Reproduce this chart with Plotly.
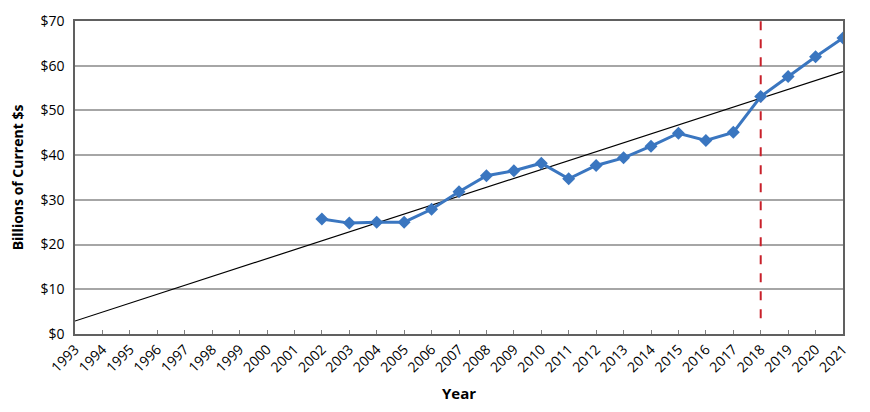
import plotly.graph_objects as go

# Data
years = list(range(2002, 2022))
values = [25.7, 24.8, 25.0, 25.0, 27.9, 31.8, 35.4, 36.5, 38.2, 34.7,
          37.7, 39.4, 42.0, 44.9, 43.3, 45.1, 53.1, 57.6, 62.0, 66.2]

trend_years = [1993, 2021]
trend_values = [2.9, 58.7]

marker_year = 2018
marker_span = [3.5, 70]

tick_years = list(range(1993, 2022))

FONT = "Open Sans"

fig = go.Figure()

# Trend line (thin black)
fig.add_trace(go.Scatter(
    x=trend_years, y=trend_values, mode='lines',
    line=dict(color='black', width=1.2),
    hoverinfo='skip', showlegend=False
))

# Red dashed reference line
fig.add_trace(go.Scatter(
    x=[marker_year, marker_year], y=marker_span, mode='lines',
    line=dict(color='#C8202A', width=2, dash='dash'),
    hoverinfo='skip', showlegend=False
))

# Main series
fig.add_trace(go.Scatter(
    x=years, y=values, mode='lines+markers',
    line=dict(color='#3A76C0', width=3),
    marker=dict(symbol='diamond', size=10, color='#3A76C0'),
    showlegend=False
))

fig.update_xaxes(
    range=[1993, 2021],
    tickmode='array',
    tickvals=tick_years,
    ticktext=[str(y) for y in tick_years],
    tickangle=-45,
    ticks='inside', ticklen=4, tickcolor='#808080',
    showgrid=False, zeroline=False,
    showline=True, linecolor='#606060', linewidth=1.5, mirror=True,
    tickfont=dict(family=FONT, size=14, color='black'),
    title=dict(text='<b>Year</b>', font=dict(family=FONT, size=15, color='black'), standoff=14),
    automargin=False,
)

fig.update_yaxes(
    range=[0, 70],
    dtick=10,
    tickprefix='$',
    ticks='', showgrid=True, gridcolor='#A6A6A6', gridwidth=1.5,
    zeroline=False,
    showline=True, linecolor='#606060', linewidth=1.5, mirror=True,
    tickfont=dict(family=FONT, size=14, color='black'),
    ticklabelstandoff=6,
    title=dict(text='<b>Billions of Current $s</b>', font=dict(family=FONT, size=14, color='black'), standoff=16),
    automargin=False,
)

# page body adds an 8px offset, margins compensate for it
fig.update_layout(
    width=870, height=412,
    margin=dict(l=67, r=35, t=13, b=86),
    plot_bgcolor='white', paper_bgcolor='white',
    font=dict(family=FONT, color='black'),
)

fig.write_html("out.html")
